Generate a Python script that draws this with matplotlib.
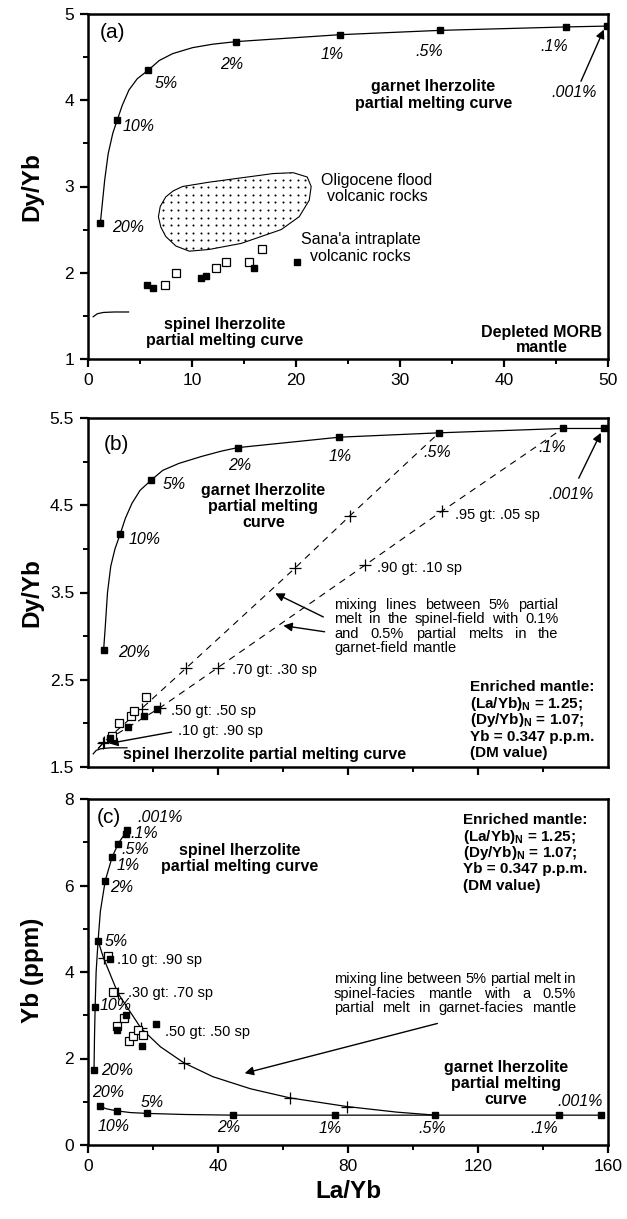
import numpy as np
import matplotlib.pyplot as plt
from matplotlib.patches import Polygon

plt.rcParams['font.family'] = ['Liberation Sans', 'DejaVu Sans']
plt.rcParams['mathtext.fontset'] = 'custom'
plt.rcParams['mathtext.rm'] = 'Liberation Sans'
plt.rcParams['mathtext.bf'] = 'Liberation Sans:bold'

melt_labels = ['20%', '10%', '5%', '2%', '1%', '.5%', '.1%', '.001%']

# ---------------- panel (a): Dy/Yb vs La/Yb (0-50) ----------------
a_gt_x = [1.19, 2.81, 5.81, 14.26, 24.2, 33.8, 46.0, 49.9]
a_gt_y = [2.58, 3.77, 4.35, 4.68, 4.76, 4.81, 4.85, 4.86]
a_gt_path_x = [1.19, 1.35, 1.61, 1.94, 2.39, 2.81, 3.29, 3.94, 4.74, 5.81,
               6.84, 8.13, 10.06, 12.0, 14.26, 24.2, 33.8, 46.0, 49.9]
a_gt_path_y = [2.58, 2.77, 3.08, 3.38, 3.62, 3.77, 3.94, 4.12, 4.25, 4.35,
               4.46, 4.54, 4.61, 4.65, 4.68, 4.76, 4.81, 4.85, 4.86]
a_lab_x = [3.85, 4.9, 7.55, 13.8, 23.5, 32.8, 44.8, 46.7]
a_lab_y = [2.52, 3.69, 4.20, 4.41, 4.53, 4.57, 4.62, 4.09]
a_sp_x = [0.5, 0.9, 1.5, 2.5, 3.9]
a_sp_y = [1.49, 1.525, 1.54, 1.545, 1.545]
a_open_x = [7.4, 8.46, 12.3, 13.3, 15.5, 16.7]
a_open_y = [1.86, 2.00, 2.06, 2.12, 2.12, 2.28]
a_fill_x = [5.64, 6.22, 10.9, 11.3, 16.0, 20.1]
a_fill_y = [1.86, 1.82, 1.94, 1.96, 2.06, 2.13]
olig_x = [6.77, 6.95, 7.48, 8.2, 9.1, 11.64, 14.72, 17.80, 19.73, 21.08, 21.46,
          21.27, 20.31, 18.57, 14.72, 11.64, 9.74, 8.45, 7.48, 7.0]
olig_y = [2.65, 2.77, 2.88, 2.95, 3.00, 3.05, 3.10, 3.15, 3.16, 3.11, 3.00,
          2.84, 2.65, 2.50, 2.34, 2.27, 2.25, 2.31, 2.42, 2.53]

# ---------------- panel (b): Dy/Yb vs La/Yb (0-160) ----------------
b_gt_x = [4.8, 9.9, 19.5, 46.0, 77.3, 108.0, 146.1, 158.7]
b_gt_y = [2.84, 4.17, 4.79, 5.16, 5.28, 5.33, 5.38, 5.38]
b_gt_path_x = [4.8, 5.3, 6.0, 7.0, 8.3, 9.9, 11.5, 13.5, 16.0, 19.5,
               23.0, 28.0, 35.0, 41.0, 46.0, 77.3, 108.0, 146.1, 158.7]
b_gt_path_y = [2.84, 3.10, 3.50, 3.80, 4.00, 4.17, 4.35, 4.52, 4.67, 4.79,
               4.90, 4.98, 5.06, 5.12, 5.16, 5.28, 5.33, 5.38, 5.38]
b_lab_x = [14.2, 17.3, 26.5, 46.7, 77.6, 107.5, 142.8, 148.5]
b_lab_y = [2.81, 4.11, 4.74, 4.95, 5.06, 5.11, 5.16, 4.62]
b_sp_x = [1.6, 2.5, 4.0, 7.0, 12.0]
b_sp_y = [1.65, 1.69, 1.71, 1.72, 1.72]
b_open_x = [7.3, 9.4, 13.1, 14.2, 17.8]
b_open_y = [1.86, 2.01, 2.09, 2.14, 2.30]
b_fill_x = [6.8, 12.2, 17.3, 21.1]
b_fill_y = [1.83, 1.96, 2.08, 2.16]
# mixing lines: 5% spinel melt -> 0.5% and 0.1% garnet melts
mix1_x = [3.1, 4.7, 16.5, 30.1, 63.7, 80.6, 108.0]
mix1_y = [1.71, 1.78, 2.17, 2.63, 3.78, 4.38, 5.33]
mix2_x = [3.1, 5.0, 22.2, 40.0, 85.1, 108.8, 146.1]
mix2_y = [1.71, 1.79, 2.18, 2.64, 3.81, 4.43, 5.38]

# ---------------- panel (c): Yb vs La/Yb ----------------
c_sp_x = [1.85, 2.2, 3.1, 5.3, 7.4, 9.3, 11.7, 12.1]
c_sp_y = [1.73, 3.20, 4.72, 6.11, 6.65, 6.97, 7.20, 7.28]
c_sp_path_x = [1.85, 2.0, 2.2, 2.5, 3.1, 3.8, 5.3, 7.4, 9.3, 12.1]
c_sp_path_y = [1.73, 2.50, 3.20, 4.00, 4.72, 5.40, 6.11, 6.65, 6.97, 7.28]
c_sp_lab_x = [9.1, 8.6, 8.8, 10.3, 12.2, 14.5, 17.3, 22.2]
c_sp_lab_y = [1.72, 3.23, 4.70, 5.96, 6.47, 6.84, 7.21, 7.58]
c_gt_x = [3.7, 8.8, 18.3, 44.7, 76.0, 106.9, 144.8, 157.8]
c_gt_y = [0.90, 0.79, 0.73, 0.69, 0.69, 0.69, 0.69, 0.69]
c_gt_path_x = [3.7, 5.5, 8.8, 13.0, 18.3, 30.0, 44.7, 76.0, 106.9, 144.8, 157.8]
c_gt_path_y = [0.90, 0.84, 0.79, 0.75, 0.73, 0.705, 0.69, 0.69, 0.69, 0.69, 0.69]
c_gt_lab_x = [6.2, 7.9, 19.8, 43.4, 74.5, 105.9, 140.5, 151.3]
c_gt_lab_y = [1.21, 0.42, 0.98, 0.41, 0.39, 0.39, 0.39, 1.00]
c_mix_x = [3.1, 4.8, 9.2, 16.3, 22.3, 29.5, 38.4, 50.0, 62.1, 79.6, 95.0, 106.9]
c_mix_y = [4.72, 4.32, 3.51, 2.70, 2.27, 1.90, 1.58, 1.30, 1.09, 0.89, 0.76, 0.69]
c_plus_x = [4.8, 9.2, 16.3, 29.5, 62.1, 79.6]
c_plus_y = [4.32, 3.51, 2.70, 1.90, 1.09, 0.89]
c_open_x = [6.3, 7.8, 9.0, 11.0, 12.6, 13.8, 15.4, 17.0]
c_open_y = [4.36, 3.53, 2.76, 2.94, 2.40, 2.52, 2.67, 2.54]
c_fill_x = [6.8, 8.9, 11.8, 16.6, 20.8]
c_fill_y = [4.31, 2.67, 3.00, 2.28, 2.79]

enriched = ['Enriched mantle:', r'(La/Yb)$_\mathbf{N}$ = 1.25;',
            r'(Dy/Yb)$_\mathbf{N}$ = 1.07;', 'Yb = 0.347 p.p.m.', '(DM value)']

fig = plt.figure(figsize=(6.27, 12.19), dpi=100)
W, H = 627.0, 1219.0
ax_a = fig.add_axes([88 / W, 1 - 359 / H, 520 / W, 345 / H])
ax_b = fig.add_axes([88 / W, 1 - 767 / H, 520 / W, 349 / H])
ax_c = fig.add_axes([88 / W, 1 - 1145 / H, 520 / W, 346 / H])


def style_axes(ax, xlim, ylim, xmaj, xmin, ymaj, ymin, ylabels, xlabels=None):
    ax.set_xlim(*xlim)
    ax.set_ylim(*ylim)
    ax.set_xticks(xmaj)
    ax.set_xticks(xmin, minor=True)
    ax.set_yticks(ymaj)
    ax.set_yticks(ymin, minor=True)
    ax.set_yticklabels(ylabels)
    if xlabels is None:
        ax.set_xticklabels([])
    else:
        ax.set_xticklabels(xlabels)
    for sp in ax.spines.values():
        sp.set_linewidth(1.8)
    ax.tick_params(which='major', direction='out', length=6, width=1.6,
                   labelsize=12.5, pad=4)
    ax.tick_params(which='minor', direction='out', length=3.5, width=1.4)


def points(ax, ox, oy, fx, fy):
    ax.plot(ox, oy, 's', ms=6, mfc='white', mec='black', mew=0.9, ls='none', zorder=4)
    ax.plot(fx, fy, 's', ms=4.6, color='black', ls='none', zorder=5)


def melt_text(ax, xs, ys):
    for lab, x, y in zip(melt_labels, xs, ys):
        ax.text(x, y, lab, fontsize=11.5, fontstyle='italic', ha='center', va='center')


def stacked(ax, x, y_top, step, lines, bold=True, fs=11.5):
    # one text per line so each line keeps its own extent
    for i, line in enumerate(lines):
        ax.text(x, y_top - i * step, line, fontsize=fs,
                fontweight='bold' if bold else 'normal', ha='center', va='center')


def arrow(ax, start, end):
    ax.annotate('', xy=end, xytext=start,
                arrowprops=dict(arrowstyle='-|>', color='black', lw=1.0,
                                mutation_scale=13, shrinkA=0, shrinkB=0))


def justified(ax, x0, x1, y_top, step, lines, fs, last_full=False):
    renderer = fig.canvas.get_renderer()
    xl = ax.get_xlim()
    px_to_data = (xl[1] - xl[0]) / ax.bbox.width
    for i, line in enumerate(lines):
        y = y_top - i * step
        words = line.split()
        texts = [ax.text(0, y, w, fontsize=fs, ha='left', va='center') for w in words]
        widths = [t.get_window_extent(renderer).width * px_to_data for t in texts]
        if i < len(lines) - 1 or last_full:
            gap = (x1 - x0 - sum(widths)) / (len(words) - 1)
        else:
            gap = 0.28 * fs * 100 / 72 * px_to_data
        x = x0
        for t, w in zip(texts, widths):
            t.set_x(x)
            x += w + gap


# ---- (a) ----
style_axes(ax_a, (0, 50), (1, 5), np.arange(0, 51, 10), np.arange(5, 50, 5),
           [1, 2, 3, 4, 5], np.arange(1.5, 5, 0.5), ['1', '2', '3', '4', '5'],
           ['0', '10', '20', '30', '40', '50'])
ax_a.plot(a_gt_path_x, a_gt_path_y, color='black', lw=0.9)
ax_a.plot(a_gt_x, a_gt_y, 's', ms=4.6, color='black')
ax_a.plot(a_sp_x, a_sp_y, color='black', lw=0.9)
melt_text(ax_a, a_lab_x, a_lab_y)
arrow(ax_a, (47.4, 4.22), (49.6, 4.82))
field = Polygon(np.column_stack([olig_x, olig_y]), closed=True, fill=False,
                ec='black', lw=0.8, joinstyle='round')
ax_a.add_patch(field)
gx, gy = np.meshgrid(np.arange(6.5, 22.0, 0.72), np.arange(2.2, 3.2, 0.088))
dots = ax_a.scatter(gx.ravel(), gy.ravel(), s=2.2, c='black', lw=0)
dots.set_clip_path(field)
points(ax_a, a_open_x, a_open_y, a_fill_x, a_fill_y)
ax_a.text(2.4, 4.78, '(a)', fontsize=15, ha='center', va='center')
stacked(ax_a, 33.2, 4.16, 0.2, ['garnet lherzolite', 'partial melting curve'])
stacked(ax_a, 27.8, 3.07, 0.19, ['Oligocene flood', 'volcanic rocks'], bold=False)
stacked(ax_a, 26.2, 2.38, 0.19, ["Sana'a intraplate", 'volcanic rocks'], bold=False)
stacked(ax_a, 13.1, 1.40, 0.19, ['spinel lherzolite', 'partial melting curve'])
stacked(ax_a, 43.6, 1.31, 0.18, ['Depleted MORB', 'mantle'])

# ---- (b) ----
style_axes(ax_b, (0, 160), (1.5, 5.5), [40, 80, 120], np.arange(20, 160, 20),
           [1.5, 2.5, 3.5, 4.5, 5.5], [2, 3, 4, 5], ['1.5', '2.5', '3.5', '4.5', '5.5'])
ax_b.plot(b_gt_path_x, b_gt_path_y, color='black', lw=0.9)
ax_b.plot(b_gt_x, b_gt_y, 's', ms=4.6, color='black')
ax_b.plot(b_sp_x, b_sp_y, color='black', lw=0.9)
for mx, my in [(mix1_x, mix1_y), (mix2_x, mix2_y)]:
    ax_b.plot(mx, my, color='black', lw=0.8, dashes=(6, 5))
    ax_b.plot(mx[1:-1], my[1:-1], '+', ms=8, mew=0.9, color='black')
melt_text(ax_b, b_lab_x, b_lab_y)
arrow(ax_b, (151.0, 4.81), (157.8, 5.33))
points(ax_b, b_open_x, b_open_y, b_fill_x, b_fill_y)
ax_b.text(8.6, 5.20, '(b)', fontsize=15, ha='center', va='center')
stacked(ax_b, 54.0, 4.67, 0.185, ['garnet lherzolite', 'partial melting', 'curve'])
for lab, x, y in [('.95 gt: .05 sp', 112.8, 4.39), ('.90 gt: .10 sp', 89.0, 3.78),
                  ('.70 gt: .30 sp', 44.4, 2.61), ('.50 gt: .50 sp', 25.5, 2.14),
                  ('.10 gt: .90 sp', 27.8, 1.91)]:
    ax_b.text(x, y, lab, fontsize=10.5, ha='left', va='center')
justified(ax_b, 75.8, 144.8, 3.36, 0.165,
          ['mixing lines between 5% partial', 'melt in the spinel-field with 0.1%',
           'and 0.5% partial melts in the', 'garnet-field mantle'], 10.5)
arrow(ax_b, (72.4, 3.22), (57.6, 3.49))
arrow(ax_b, (72.8, 3.05), (60.1, 3.12))
arrow(ax_b, (25.7, 1.90), (6.5, 1.77))
ax_b.text(10.9, 1.64, 'spinel lherzolite partial melting curve', fontsize=11.5,
          fontweight='bold', ha='left', va='center')
for i, line in enumerate(enriched):
    ax_b.text(117.4, 2.37 - i * 0.19, line, fontsize=11, fontweight='bold',
              ha='left', va='baseline')

# ---- (c) ----
style_axes(ax_c, (0, 160), (0, 8), [0, 40, 80, 120, 160], np.arange(20, 160, 40),
           [0, 2, 4, 6, 8], [1, 3, 5, 7], ['0', '2', '4', '6', '8'],
           ['0', '40', '80', '120', '160'])
ax_c.plot(c_sp_path_x, c_sp_path_y, color='black', lw=0.9)
ax_c.plot(c_sp_x, c_sp_y, 's', ms=4.6, color='black')
ax_c.plot(c_gt_path_x, c_gt_path_y, color='black', lw=0.9)
ax_c.plot(c_gt_x, c_gt_y, 's', ms=4.6, color='black')
ax_c.plot(c_mix_x, c_mix_y, color='black', lw=0.9)
ax_c.plot(c_plus_x, c_plus_y, '+', ms=8, mew=0.9, color='black')
melt_text(ax_c, c_sp_lab_x, c_sp_lab_y)
melt_text(ax_c, c_gt_lab_x, c_gt_lab_y)
points(ax_c, c_open_x, c_open_y, c_fill_x, c_fill_y)
ax_c.text(6.5, 7.58, '(c)', fontsize=15, ha='center', va='center')
stacked(ax_c, 46.7, 6.82, 0.37, ['spinel lherzolite', 'partial melting curve'])
stacked(ax_c, 128.5, 1.79, 0.365, ['garnet lherzolite', 'partial melting', 'curve'])
for lab, x, y in [('.10 gt: .90 sp', 9.0, 4.28), ('.30 gt: .70 sp', 12.4, 3.51),
                  ('.50 gt: .50 sp', 23.8, 2.62)]:
    ax_c.text(x, y, lab, fontsize=10.5, ha='left', va='center')
justified(ax_c, 75.7, 150.1, 3.83, 0.335,
          ['mixing line between 5% partial melt in', 'spinel-facies mantle with a 0.5%',
           'partial melt in garnet-facies mantle'], 10.5, last_full=True)
arrow(ax_c, (107.5, 2.81), (48.2, 1.66))
for i, line in enumerate(enriched):
    ax_c.text(115.5, 7.42 - i * 0.38, line, fontsize=11, fontweight='bold',
              ha='left', va='baseline')

# axis titles
fig.text(32 / W, 1 - 187 / H, 'Dy/Yb', rotation=90, fontsize=17.5, fontweight='bold',
         ha='center', va='center')
fig.text(32 / W, 1 - 593 / H, 'Dy/Yb', rotation=90, fontsize=17.5, fontweight='bold',
         ha='center', va='center')
fig.text(32 / W, 1 - 970 / H, 'Yb (ppm)', rotation=90, fontsize=17.5, fontweight='bold',
         ha='center', va='center')
fig.text(348 / W, 1 - 1192 / H, 'La/Yb', fontsize=17.5, fontweight='bold',
         ha='center', va='center')

fig.savefig('out.png', dpi=100)
